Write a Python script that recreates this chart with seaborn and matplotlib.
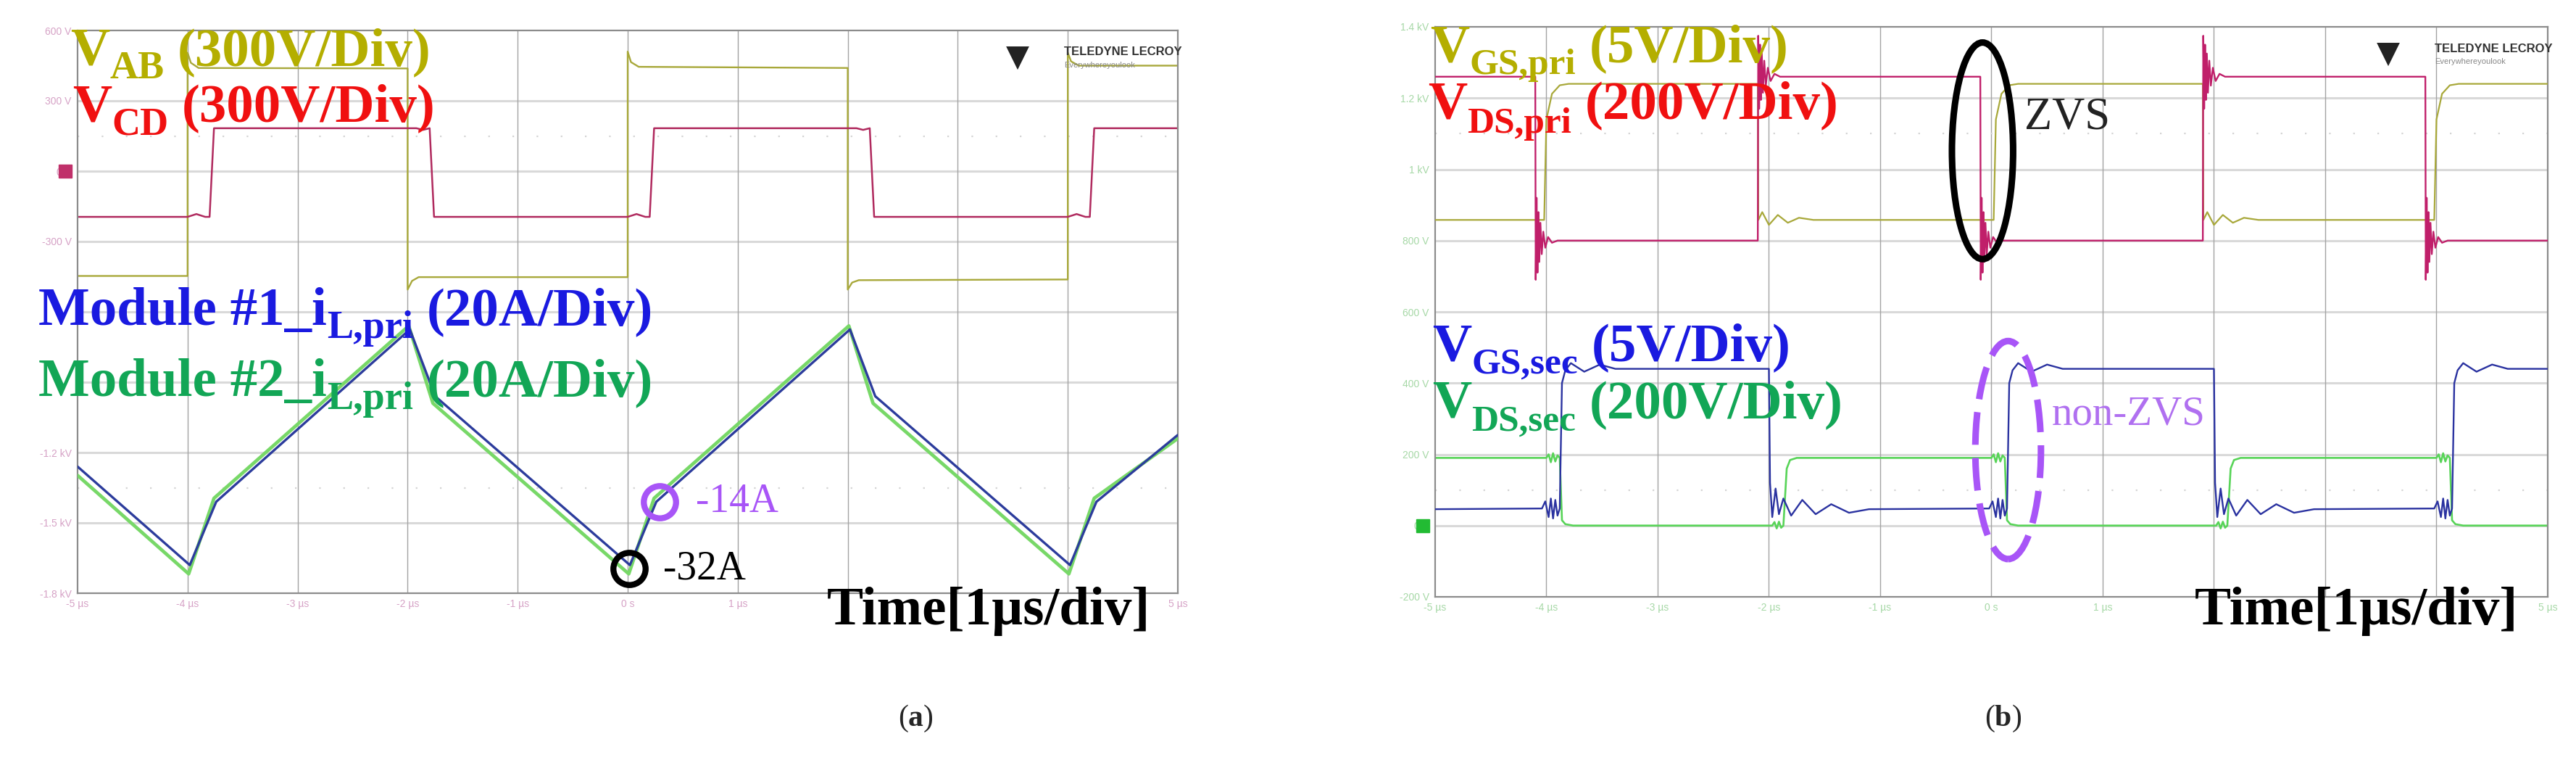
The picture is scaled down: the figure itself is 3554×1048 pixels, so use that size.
import numpy as np
import matplotlib
matplotlib.use('Agg')
import matplotlib.pyplot as plt
from matplotlib.patches import Ellipse
import seaborn as sns

W, H = 3555, 1048

# time axis, 1 us/div (labels hidden under the "Time" caption are left blank)
t_ticks = [-5, -4, -3, -2, -1, 0, 1, 2, 3, 4, 5]
t_labels = ['-5 µs', '-4 µs', '-3 µs', '-2 µs', '-1 µs', '0 s',
            '1 µs', '', '', '', '5 µs']

# screen labels of the two captures (two are covered by the legend text)
a_ylabels = ['600 V', '300 V', '0 V', '-300 V', '', '',
             '-1.2 kV', '-1.5 kV', '-1.8 kV']
b_ylabels = ['1.4 kV', '1.2 kV', '1 kV', '800 V', '600 V', '400 V',
             '200 V', '0 V', '-200 V']

# ---- (a) ----
# V_AB [V]
t_ab = [-5, -4, -4, -3.97, -3.9, -2, -2, -1.96, -1.9, 0, 0, 0.03, 0.1,
        2, 2, 2.04, 2.1, 4, 4, 4.03, 4.1, 5]
v_ab = [-447, -447, 505, 462, 440, 438, -505, -468, -452, -452, 510, 465, 445,
        440, -505, -475, -465, -462, 505, 468, 450, 450]
# V_CD [V]
t_cd = [-5, -4.0, -3.92, -3.84, -3.8, -3.76, -1.92, -1.86, -1.8, -1.76,
        0.0, 0.08, 0.16, 0.2, 0.24, 2.08, 2.14, 2.2, 2.24,
        4.0, 4.08, 4.16, 4.2, 4.24, 5]
v_cd = [-195, -195, -183, -195, -195, 183, 183, 176, 183, -195,
        -195, -183, -195, -195, 183, 183, 176, 183, -195,
        -195, -183, -195, -195, 183, 183]
# inductor currents [A]
t_i1 = [-5, -3.98, -3.74, -1.98, -1.75, 0.02, 0.26, 2.02, 2.25, 4.02, 4.26, 5]
i_m1 = [-4, -32, -14, 35, 16, -32, -14, 35, 16, -32, -14, 5]
t_i2 = [-5, -3.99, -3.76, -1.99, -1.77, 0.01, 0.24, 2.01, 2.23, 4.01, 4.24, 5]
i_m2 = [-6.5, -34.5, -13, 36, 14, -34.5, -13, 36, 14, -34.5, -13, 4]
# marked points
mark_t = [0.29, 0.01]
mark_i = [-14, -33]
mark_txt = ['-14A', '-32A']

# ---- (b) ---- edge times [us] and the waveform read around each edge
dspri_edges = [-4.1, -2.1, -0.1, 1.9, 3.9]          # first one falls
dspri_fall_dt = [0.0, 0.004, 0.012, 0.02, 0.028, 0.036, 0.046, 0.058, 0.072, 0.09, 0.115, 0.15, 0.2]
dspri_fall_v = [460, -110, 120, -90, 80, -60, 50, -38, 25, -20, 10, -6, 0]
dspri_rise_dt = [0.0, 0.004, 0.012, 0.02, 0.028, 0.036, 0.046, 0.058, 0.072, 0.09, 0.115, 0.15, 0.2]
dspri_rise_v = [0, 575, 370, 550, 395, 525, 415, 505, 435, 485, 448, 468, 460]

gspri_edges = [-4.02, -2.1, 0.02, 1.9, 3.98]         # first one rises
gspri_rise_dt = [0.0, 0.02, 0.07, 0.14, 0.22]
gspri_rise_v = [1.45, 8.5, 10.3, 10.9, 11.0]
gspri_fall_dt = [0.0, 0.005, 0.04, 0.1, 0.18, 0.27, 0.37, 0.5]
gspri_fall_v = [11.0, 1.45, 2.0, 1.1, 1.8, 1.25, 1.6, 1.45]

gssec_edges = [-3.88, -2.0, 0.14, 2.0, 4.14]         # first one rises
gssec_rise_dt = [-0.16, -0.13, -0.1, -0.08, -0.06, -0.04, -0.02, 0.0, 0.02, 0.05, 0.1, 0.22, 0.36, 0.5]
gssec_rise_v = [1.2, 1.7, 0.6, 1.9, 0.5, 1.8, 0.7, 1.2, 10.0, 10.9, 11.4, 10.8, 11.3, 11.0]
gssec_fall_dt = [0.0, 0.01, 0.03, 0.06, 0.09, 0.13, 0.2, 0.3, 0.42, 0.56, 0.72, 0.9]
gssec_fall_v = [11.0, 3.0, 0.6, 2.6, 0.8, 1.9, 0.7, 1.8, 0.8, 1.5, 0.9, 1.15]

dssec_edges = [-3.88, -1.87, 0.12, 2.12, 4.12]       # first one falls
dssec_fall_dt = [-0.12, -0.1, -0.08, -0.06, -0.04, -0.02, 0.0, 0.02, 0.05, 0.12]
dssec_fall_v = [190, 200, 178, 203, 180, 197, 190, 15, 4, 0]
dssec_rise_dt = [-0.1, -0.08, -0.06, -0.04, -0.02, 0.0, 0.03, 0.06, 0.12]
dssec_rise_v = [0, 10, -8, 11, -6, 0, 160, 184, 190]


def build(edges, first, second, start, end):
    t, v = [-5.0], [start]
    for k, t0 in enumerate(edges):
        dts, vs = first if k % 2 == 0 else second
        t += [t0 + d for d in dts]
        v += list(vs)
    t.append(5.0)
    v.append(end)
    return np.array(t), np.array(v)


t_dspri, v_dspri = build(dspri_edges, (dspri_fall_dt, dspri_fall_v), (dspri_rise_dt, dspri_rise_v), 460, 0)
t_gspri, v_gspri = build(gspri_edges, (gspri_rise_dt, gspri_rise_v), (gspri_fall_dt, gspri_fall_v), 1.45, 11.0)
t_gssec, v_gssec = build(gssec_edges, (gssec_rise_dt, gssec_rise_v), (gssec_fall_dt, gssec_fall_v), 1.15, 11.0)
t_dssec, v_dssec = build(dssec_edges, (dssec_fall_dt, dssec_fall_v), (dssec_rise_dt, dssec_rise_v), 190, 0)

sns.set_theme(style='white')
plt.rcParams['font.family'] = ['Liberation Serif', 'DejaVu Serif']
plt.rcParams['mathtext.fontset'] = 'custom'
plt.rcParams['mathtext.rm'] = 'Liberation Serif'
plt.rcParams['mathtext.bf'] = 'Liberation Serif:bold'

fig = plt.figure(figsize=(W / 100, H / 100), dpi=100)
fig.patch.set_facecolor('white')
rend = fig.canvas.get_renderer()


def px(x, y):
    return x / W, 1 - y / H


def screen(ax, vdiv, zero, ylabels, lab_color):
    ax.set_facecolor('white')
    ax.set_xlim(-5, 5)
    ax.set_ylim(-(8 - zero) * vdiv, zero * vdiv)
    rows = (zero - np.arange(9)) * vdiv
    ax.set_yticks(rows)
    ax.set_yticklabels(ylabels, family='Liberation Sans')
    ax.set_xticks(t_ticks)
    ax.set_xticklabels(t_labels, family='Liberation Sans')
    ax.tick_params(length=0, labelsize=10, labelcolor=lab_color, pad=6)
    for y in rows[1:-1]:
        ax.axhline(y, color='#d9d9d9', lw=2.2, zorder=0)
    for x in t_ticks[1:-1]:
        ax.axvline(x, color='#a3a3a3', lw=1.0, zorder=0)
    for r in (1.5, 6.5):
        ax.axhline((zero - r) * vdiv, color='#d4d4d4', lw=1.6, ls=(0, (1, 14)), zorder=0)
    for s in ax.spines.values():
        s.set_color('#8c8c8c')
        s.set_linewidth(1.6)


def channel(ax, vdiv, zero):
    tw = ax.twinx()
    tw.set_ylim(-(8 - zero) * vdiv, zero * vdiv)
    tw.set_xlim(-5, 5)
    tw.axis('off')
    return tw


def trace(ax, t, v, color, lw):
    sns.lineplot(x=t, y=v, ax=ax, color=color, lw=lw, estimator=None,
                 sort=False, legend=False)


def label(x, y, parts, color, size=54):
    # parts: (text, fontsize, drop in px, gap before in em)
    for s, fs, dy, gap in parts:
        x += gap * size * 100 / 72
        t = fig.text(*px(x, y + dy), s, fontsize=fs, fontweight='bold',
                     color=color, va='baseline', ha='left')
        x = t.get_window_extent(renderer=rend).x1


# ---------------- (a) ----------------
ax_a = fig.add_axes([107 / W, 1 - 818 / H, (1625 - 107) / W, (818 - 42) / H])
screen(ax_a, 300, 2, a_ylabels, '#d6a2c6')
trace(ax_a, t_ab, v_ab, '#a8a83a', 1.7)
trace(ax_a, t_cd, v_cd, '#b02a5e', 1.8)
ax_a.plot([-0.011], [0], transform=ax_a.get_yaxis_transform(), marker='s',
          ms=13, color='#c0306a', clip_on=False)
ax_a.set_xlabel('')
ax_a.set_ylabel('')

ax_i = channel(ax_a, 20, 6)
trace(ax_i, t_i2, i_m2, '#78d868', 3.4)
trace(ax_i, t_i1, i_m1, '#2c3c9c', 2.4)
ax_i.plot(mark_t[:1], mark_i[:1], marker='o', ms=32, mfc='none', mec='#a855f7',
          mew=6, ls='none', clip_on=False)
ax_i.plot(mark_t[1:], mark_i[1:], marker='o', ms=32, mfc='none', mec='black',
          mew=6, ls='none', clip_on=False)
ax_i.text(mark_t[0] + 0.33, mark_i[0], mark_txt[0], color='#a855f7', fontsize=40,
          va='center', ha='left')
ax_i.text(mark_t[1] + 0.31, mark_i[1], mark_txt[1], color='black', fontsize=40,
          va='center', ha='left')

# ---------------- (b) ----------------
ax_b = fig.add_axes([1980 / W, 1 - 823 / H, (3515 - 1980) / W, (823 - 37) / H])
screen(ax_b, 200, 7, b_ylabels, '#a6d8a6')
ax_b.plot([-0.011], [0], transform=ax_b.get_yaxis_transform(), marker='s',
          ms=13, color='#22bb33', clip_on=False)

ax_gp = channel(ax_b, 5, 3)
ax_dp = channel(ax_b, 200, 3)
ax_gs = channel(ax_b, 5, 7)
trace(ax_gp, t_gspri, v_gspri, '#a8a83a', 1.6)
trace(ax_dp, t_dspri, v_dspri, '#c01f6a', 1.7)
trace(ax_b, t_dssec, v_dssec, '#58d458', 1.9)
trace(ax_gs, t_gssec, v_gssec, '#2a32a0', 1.7)
ax_b.set_xlabel('')
ax_b.set_ylabel('')

# ZVS / non-ZVS markers (in V_GS,sec screen units)
ax_gs.add_patch(Ellipse((-0.08, 26.3), 0.55, 15.2, fill=False, ec='black',
                        lw=6.5, clip_on=False, zorder=5))
ax_gs.add_patch(Ellipse((0.15, 5.3), 0.59, 15.3, fill=False, ec='#a855f7',
                        lw=6.5, ls=(0, (5, 2)), clip_on=False, zorder=5))

# ---------------- texts ----------------
olive, red, blue, green = '#b4ae00', '#f01010', '#1a1ae0', '#12a656'
label(97, 90, [('V', 54, 0, 0), ('AB', 39, 18, 0), ('(300V/Div)', 54, 0, 0.25)], olive)
label(100, 167, [('V', 54, 0, 0), ('CD', 39, 18, 0), ('(300V/Div)', 54, 0, 0.25)], red)
label(53, 448, [('Module #1_i', 54, 0, 0), ('L,pri', 39, 18, 0), ('(20A/Div)', 54, 0, 0.25)], blue)
label(53, 546, [('Module #2_i', 54, 0, 0), ('L,pri', 39, 18, 0), ('(20A/Div)', 54, 0, 0.25)], green)
label(1141, 861, [('Time[1µs/div]', 54, 0, 0)], 'black')

label(1973, 85, [('V', 54, 0, 0), ('GS,pri', 37, 17, 0), ('(5V/Div)', 54, 0, 0.25)], olive)
label(1970, 163, [('V', 54, 0, 0), ('DS,pri', 37, 20, 0), ('(200V/Div)', 54, 0, 0.25)], red)
label(1976, 497, [('V', 54, 0, 0), ('GS,sec', 37, 18, 0), ('(5V/Div)', 54, 0, 0.25)], blue)
label(1976, 576, [('V', 54, 0, 0), ('DS,sec', 37, 18, 0), ('(200V/Div)', 54, 0, 0.25)], green)
label(3028, 861, [('Time[1µs/div]', 54, 0, 0)], 'black')

fig.text(*px(2793, 177), 'ZVS', color='#222222', fontsize=45, va='baseline', ha='left')
fig.text(*px(2831, 572), 'non-ZVS', color='#b070f0', fontsize=41, va='center', ha='left')

# scope logo
for lx, ly in ((1388, 80), (3279, 75)):
    fig.text(*px(lx, ly), '▼', family='DejaVu Sans', fontsize=30, color='#222222',
             va='center', ha='left')
    fig.text(*px(lx + 80, ly - 8), 'TELEDYNE LECROY', family='Liberation Sans',
             fontsize=12, fontweight='bold', color='#333333', va='center', ha='left')
    fig.text(*px(lx + 80, ly + 10), 'Everywhereyoulook', family='Liberation Sans',
             fontsize=8, color='#888888', va='center', ha='left')

# captions
fig.text(*px(1263, 991), r'($\mathbf{a}$)', fontsize=30, va='center', ha='center')
fig.text(*px(2764, 991), r'($\mathbf{b}$)', fontsize=30, va='center', ha='center')

fig.savefig('out.png', dpi=100)
